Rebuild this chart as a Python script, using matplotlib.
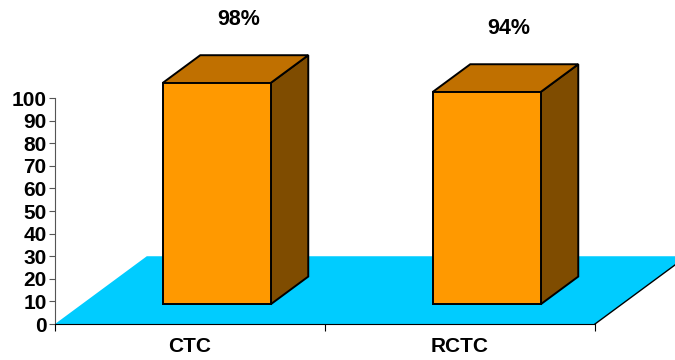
import matplotlib
matplotlib.use("Agg")
import matplotlib.pyplot as plt
from matplotlib.patches import Polygon

categories = ["CTC", "RCTC"]
values = [98, 94]
value_labels = ["98%", "94%"]
y_ticks = [0, 10, 20, 30, 40, 50, 60, 70, 80, 90, 100]

# 3D look: depth offset of the floor in data units
DX, DY = 0.34, 30.0
BAR_W = 0.4
D_FRONT, D_BACK = 0.29, 0.70

plt.rcParams['font.family'] = ['Liberation Sans', 'DejaVu Sans']
plt.rcParams['font.weight'] = 'bold'

fig = plt.figure(figsize=(6.75, 3.6), dpi=100)
ax = fig.add_axes([55 / 675, 36 / 360, 621 / 675, 323 / 360])
ax.set_xlim(0, 2.3)
ax.set_ylim(0, 143)


def proj(x, y, d):
    return (x + d * DX, y + d * DY)


# floor
floor = [proj(0, 0, 0), proj(2, 0, 0), proj(2, 0, 1), proj(0, 0, 1)]
ax.add_patch(Polygon(floor, closed=True, facecolor='#00CCFF', edgecolor='none', clip_on=False))
ax.plot([2, 2 + DX], [0, DY], color='black', lw=1, clip_on=False)

# bars
for i, h in enumerate(values):
    c = i + 0.5
    x0, x1 = c - BAR_W / 2, c + BAR_W / 2
    front = [proj(x0, 0, D_FRONT), proj(x1, 0, D_FRONT), proj(x1, h, D_FRONT), proj(x0, h, D_FRONT)]
    top = [proj(x0, h, D_FRONT), proj(x1, h, D_FRONT), proj(x1, h, D_BACK), proj(x0, h, D_BACK)]
    side = [proj(x1, 0, D_FRONT), proj(x1, 0, D_BACK), proj(x1, h, D_BACK), proj(x1, h, D_FRONT)]
    ax.add_patch(Polygon(side, closed=True, facecolor='#7F4C00', edgecolor='black', lw=1.4, clip_on=False))
    ax.add_patch(Polygon(top, closed=True, facecolor='#C07000', edgecolor='black', lw=1.4, clip_on=False))
    ax.add_patch(Polygon(front, closed=True, facecolor='#FF9900', edgecolor='black', lw=1.4, clip_on=False))
    ax.text(c + 0.18, h + 37, value_labels[i], ha='center', va='center',
            fontsize=15.5, fontweight='bold')

for s in ['top', 'right']:
    ax.spines[s].set_visible(False)
ax.spines['left'].set_bounds(0, 100)
ax.spines['bottom'].set_bounds(0, 2)
ax.spines['left'].set_color('#555555')

ax.set_yticks(y_ticks)
ax.set_yticklabels([str(t) for t in y_ticks], fontsize=15, fontweight='bold')
ax.tick_params(axis='y', length=4, pad=2, color='#555555')

ax.set_xticks([0, 1, 2])
ax.set_xticklabels([])
ax.set_xticks([0.5, 1.5], minor=True)
ax.set_xticklabels(categories, minor=True, fontsize=15, fontweight='bold')
ax.tick_params(axis='x', which='major', length=5, direction='out')
ax.tick_params(axis='x', which='minor', length=0, pad=9)

fig.savefig("out.png", dpi=100)
